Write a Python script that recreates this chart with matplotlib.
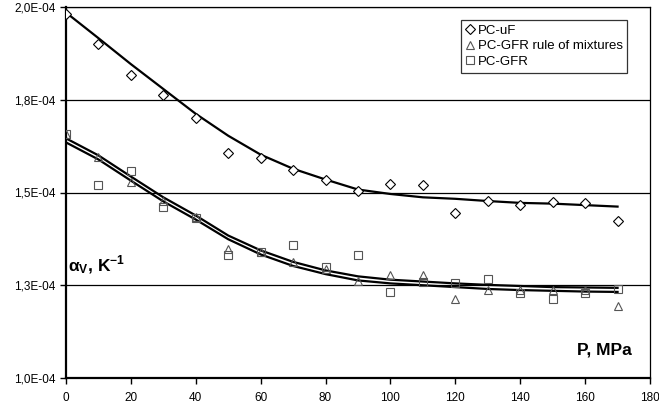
import matplotlib
matplotlib.use("Agg")
import matplotlib.pyplot as plt

plt.rcParams['font.family'] = ['Liberation Sans', 'DejaVu Sans']
plt.rcParams['mathtext.fontset'] = 'custom'
plt.rcParams['mathtext.rm'] = 'Liberation Sans'
plt.rcParams['mathtext.bf'] = 'Liberation Sans:bold'

# pressure, MPa
pressure = [0, 10, 20, 30, 40, 50, 60, 70, 80, 90, 100, 110, 120, 130, 140, 150, 160, 170]

# volumetric expansion coefficient, 1/K (measured points)
alpha_uf = [1.982e-4, 1.901e-4, 1.817e-4, 1.763e-4, 1.702e-4, 1.607e-4, 1.594e-4, 1.561e-4, 1.535e-4,
            1.505e-4, 1.522e-4, 1.521e-4, 1.445e-4, 1.477e-4, 1.465e-4, 1.475e-4, 1.471e-4, 1.424e-4]
alpha_rule = [1.658e-4, 1.595e-4, 1.528e-4, 1.478e-4, 1.433e-4, 1.349e-4, 1.340e-4, 1.312e-4, 1.295e-4,
              1.261e-4, 1.277e-4, 1.277e-4, 1.214e-4, 1.238e-4, 1.238e-4, 1.238e-4, 1.238e-4, 1.194e-4]
alpha_gfr = [1.658e-4, 1.519e-4, 1.559e-4, 1.462e-4, 1.430e-4, 1.331e-4, 1.340e-4, 1.358e-4, 1.298e-4,
             1.331e-4, 1.232e-4, 1.259e-4, 1.257e-4, 1.266e-4, 1.228e-4, 1.214e-4, 1.228e-4, 1.239e-4]

# trend lines at the same pressures
trend_uf = [1.985e-4, 1.916e-4, 1.846e-4, 1.779e-4, 1.712e-4, 1.653e-4, 1.602e-4, 1.564e-4, 1.535e-4,
            1.508e-4, 1.496e-4, 1.487e-4, 1.483e-4, 1.477e-4, 1.472e-4, 1.470e-4, 1.466e-4, 1.462e-4]
trend_rule = [1.646e-4, 1.600e-4, 1.543e-4, 1.487e-4, 1.438e-4, 1.384e-4, 1.344e-4, 1.313e-4, 1.290e-4,
              1.274e-4, 1.265e-4, 1.260e-4, 1.255e-4, 1.251e-4, 1.248e-4, 1.245e-4, 1.244e-4, 1.243e-4]
trend_gfr = [1.635e-4, 1.589e-4, 1.532e-4, 1.476e-4, 1.427e-4, 1.374e-4, 1.333e-4, 1.302e-4, 1.280e-4,
             1.263e-4, 1.255e-4, 1.250e-4, 1.245e-4, 1.240e-4, 1.237e-4, 1.235e-4, 1.233e-4, 1.232e-4]

y_ticks = [1.0e-4, 1.25e-4, 1.5e-4, 1.75e-4, 2.0e-4]
y_labels = ['1,0E-04', '1,3E-04', '1,5E-04', '1,8E-04', '2,0E-04']
x_ticks = [0, 20, 40, 60, 80, 100, 120, 140, 160, 180]

fig = plt.figure(figsize=(6.59, 4.12), dpi=100)
ax = fig.add_axes([66 / 659, 1 - 378 / 412, 584 / 659, 371 / 412])

for yt in y_ticks:
    ax.axhline(yt, color='black', lw=0.9, zorder=1)

for tr in (trend_uf, trend_rule, trend_gfr):
    ax.plot(pressure, tr, color='black', lw=1.6, zorder=2, solid_joinstyle='round')

ax.plot(pressure, alpha_uf, ls='none', marker='D', ms=5, mfc='white', mec='black', mew=0.8,
        label='PC-uF', zorder=3)
ax.plot(pressure, alpha_rule, ls='none', marker='^', ms=6, mfc='none', mec='#555555', mew=0.8,
        label='PC-GFR rule of mixtures', zorder=3)
ax.plot(pressure, alpha_gfr, ls='none', marker='s', ms=6, mfc='none', mec='#555555', mew=0.8,
        label='PC-GFR', zorder=3)

ax.set_xlim(0, 180)
ax.set_ylim(1.0e-4, 2.0e-4)
ax.set_xticks(x_ticks)
ax.set_yticks(y_ticks)
ax.set_yticklabels(y_labels)
ax.tick_params(labelsize=8.5, length=4, width=1, direction='out', colors='black')
ax.tick_params(axis='x', pad=6)
for side in ('left', 'bottom'):
    ax.spines[side].set_linewidth(1.6)
for side in ('top', 'right'):
    ax.spines[side].set_linewidth(0.9)

ax.text(0.6, 1.29e-4, r'$\mathbf{\alpha_V}$, K$^{\mathbf{-1}}$', fontsize=12.5, fontweight='bold',
        ha='left', va='baseline')
ax.text(157.5, 1.062e-4, 'P, MPa', fontsize=12.5, fontweight='bold', ha='left', va='baseline')

leg = ax.legend(loc='upper right', bbox_to_anchor=(0.961, 0.965), borderaxespad=0,
                fontsize=9.5, frameon=True, fancybox=False, handlelength=0.6,
                handletextpad=0.3, labelspacing=0.25, borderpad=0.35)
leg.get_frame().set_edgecolor('black')
leg.get_frame().set_linewidth(0.9)

fig.savefig('out.png', dpi=100)
